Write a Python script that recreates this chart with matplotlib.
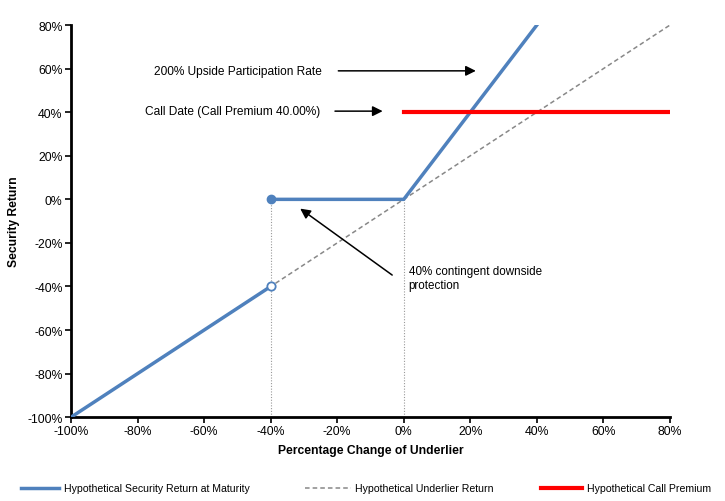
import matplotlib
matplotlib.use('Agg')
import matplotlib.pyplot as plt
from matplotlib.lines import Line2D
from matplotlib.ticker import FuncFormatter

plt.rcParams['font.family'] = ['Liberation Sans', 'DejaVu Sans']

# hypothetical payoff values (percent)
security_x1 = [-100, -40]
security_y1 = [-100, -40]
security_x2 = [-40, 0, 40]
security_y2 = [0, 0, 80]
underlier_x = [-100, 80]
underlier_y = [-100, 80]
premium_x = [0, 80]
premium_y = [40, 40]
barrier_x = [-40, 0]

blue = '#4f81bd'

fig = plt.figure(figsize=(7.25, 5.02), dpi=100)
ax = fig.add_axes([0.098, 0.167, 0.826, 0.781])

for x in barrier_x:
    ax.plot([x, x], [-100, 0], color='#999999', lw=0.8, ls=(0, (1, 1.5)), zorder=1)

ax.plot(underlier_x, underlier_y, color='#888888', lw=1.1, ls=(0, (3, 2)), zorder=2)
ax.plot(security_x1, security_y1, color=blue, lw=2.5, zorder=3)
ax.plot(security_x2, security_y2, color=blue, lw=2.5, zorder=3)
ax.plot(premium_x, premium_y, color='#ff0000', lw=3, zorder=3)
ax.plot([-40], [-40], 'o', ms=6, mfc='white', mec=blue, mew=1.3, zorder=4)
ax.plot([-40], [0], 'o', ms=6, mfc=blue, mec=blue, zorder=4)

ax.set_xlim(-100, 80)
ax.set_ylim(-100, 80)
ax.set_xticks(range(-100, 81, 20))
ax.set_yticks(range(-100, 81, 20))
pct = FuncFormatter(lambda v, p: f'{v:.0f}%')
ax.xaxis.set_major_formatter(pct)
ax.yaxis.set_major_formatter(pct)
ax.tick_params(labelsize=8.8, direction='out', length=4, width=1.2, pad=2)

for s in ['top', 'right']:
    ax.spines[s].set_visible(False)
for s in ['left', 'bottom']:
    ax.spines[s].set_linewidth(2)

ax.set_xlabel('Percentage Change of Underlier', fontsize=8.7, fontweight='bold', labelpad=5)
ax.set_ylabel('Security Return', fontsize=8.7, fontweight='bold', labelpad=5)

arrow = dict(arrowstyle='-|>', color='black', lw=1.1, mutation_scale=15)
ax.text(-24.5, 59, '200% Upside Participation Rate', fontsize=8.6, ha='right', va='center')
ax.annotate('', xy=(22.5, 59), xytext=(-20.5, 59), arrowprops=arrow)
ax.text(-25, 40.5, 'Call Date (Call Premium 40.00%)', fontsize=8.6, ha='right', va='center')
ax.annotate('', xy=(-5.5, 40.5), xytext=(-21.5, 40.5), arrowprops=arrow)
ax.text(1.5, -30, '40% contingent downside\nprotection', fontsize=8.4, ha='left', va='top',
        linespacing=1.25)
ax.annotate('', xy=(-31.8, -3.5), xytext=(-2.8, -35.5), arrowprops=arrow)

# legend row drawn by hand to match the original spacing
legend_items = [
    ('Hypothetical Security Return at Maturity', dict(color=blue, lw=2.5), 0.029, 0.082),
    ('Hypothetical Underlier Return', dict(color='#888888', lw=1.1, ls=(0, (3, 2))), 0.421, 0.484),
    ('Hypothetical Call Premium', dict(color='#ff0000', lw=3), 0.746, 0.803),
]
ly = 0.026
for label, style, x0, x1 in legend_items:
    fig.add_artist(Line2D([x0, x1], [ly, ly], transform=fig.transFigure, **style))
    fig.text(x1 + 0.006, ly, label, fontsize=7.6, ha='left', va='center')

fig.savefig('out.png', dpi=100)
